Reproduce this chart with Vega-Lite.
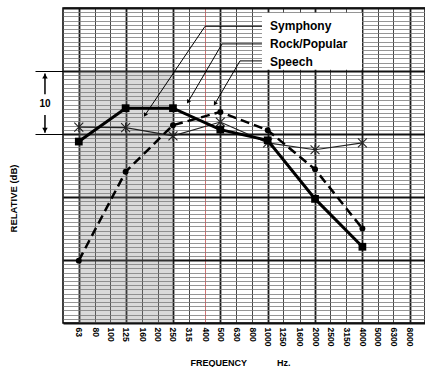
{
  "$schema": "https://vega.github.io/schema/vega-lite/v6.json",
  "width": 362,
  "height": 315,
  "autosize": "none",
  "padding": {"left": 63, "top": 8, "right": 0, "bottom": 44},
  "background": "white",
  "view": {"stroke": "black", "strokeWidth": 1.5},
  "config": {"font": "Liberation Sans"},
  "datasets": {
    "series": [
      {"series": "Symphony", "freq": 63, "db": 28.8},
      {"series": "Symphony", "freq": 125, "db": 34.1},
      {"series": "Symphony", "freq": 250, "db": 34.1},
      {"series": "Symphony", "freq": 500, "db": 30.7},
      {"series": "Symphony", "freq": 1000, "db": 29.0},
      {"series": "Symphony", "freq": 2000, "db": 19.7},
      {"series": "Symphony", "freq": 4000, "db": 12.1},
      {"series": "Rock/Popular", "freq": 63, "db": 9.9},
      {"series": "Rock/Popular", "freq": 125, "db": 24.0},
      {"series": "Rock/Popular", "freq": 250, "db": 31.4},
      {"series": "Rock/Popular", "freq": 500, "db": 33.5},
      {"series": "Rock/Popular", "freq": 1000, "db": 30.6},
      {"series": "Rock/Popular", "freq": 2000, "db": 24.4},
      {"series": "Rock/Popular", "freq": 4000, "db": 15.0},
      {"series": "Speech", "freq": 63, "db": 31.1},
      {"series": "Speech", "freq": 125, "db": 31.0},
      {"series": "Speech", "freq": 250, "db": 29.7},
      {"series": "Speech", "freq": 500, "db": 31.9},
      {"series": "Speech", "freq": 1000, "db": 28.6},
      {"series": "Speech", "freq": 2000, "db": 27.5},
      {"series": "Speech", "freq": 4000, "db": 28.6}
    ],
    "leaders": [
      {"leader": "Symphony", "step": 1, "freq": 920, "db": 47.1},
      {"leader": "Symphony", "step": 2, "freq": 400, "db": 47.1},
      {"leader": "Symphony", "step": 3, "freq": 166, "db": 33.0},
      {"leader": "Rock/Popular", "step": 1, "freq": 920, "db": 44.3},
      {"leader": "Rock/Popular", "step": 2, "freq": 513, "db": 44.3},
      {"leader": "Rock/Popular", "step": 3, "freq": 312, "db": 35.1},
      {"leader": "Speech", "step": 1, "freq": 920, "db": 41.6},
      {"leader": "Speech", "step": 2, "freq": 667, "db": 41.6},
      {"leader": "Speech", "step": 3, "freq": 462, "db": 34.8}
    ],
    "labels": [
      {"label": "Symphony", "freq": 1035, "db": 47.1},
      {"label": "Rock/Popular", "freq": 1035, "db": 44.3},
      {"label": "Speech", "freq": 1035, "db": 41.5}
    ]
  },
  "encoding": {
    "x": {
      "field": "freq",
      "type": "quantitative",
      "scale": {"type": "log", "domain": [50, 10000], "nice": false},
      "axis": {
        "values": [63, 80, 100, 125, 160, 200, 250, 315, 400, 500, 630, 800, 1000, 1250, 1600, 2000, 2500, 3150, 4000, 5000, 6300, 8000],
        "format": "d",
        "labelOverlap": false,
        "labelAngle": 90,
        "labelAlign": "left",
        "labelBaseline": "middle",
        "labelPadding": 4,
        "labelFont": "Liberation Sans",
        "labelFontSize": 8.5,
        "labelFontWeight": "bold",
        "labelColor": "black",
        "ticks": false,
        "domain": false,
        "grid": true,
        "gridColor": {"condition": {"test": "datum.value == 400", "value": "#c85050"}, "value": "#1a1a1a"},
        "gridWidth": {"condition": {"test": "datum.value == 63 || datum.value == 125 || datum.value == 250 || datum.value == 500 || datum.value == 1000 || datum.value == 2000 || datum.value == 4000 || datum.value == 8000", "value": 1.8}, "value": 0.8},
        "gridOpacity": 1,
        "title": "FREQUENCY\u00a0\u00a0\u00a0\u00a0\u00a0\u00a0\u00a0\u00a0\u00a0\u00a0\u00a0\u00a0Hz.",
        "titleFont": "Liberation Sans",
        "titleFontSize": 9,
        "titleFontWeight": "bold",
        "titleColor": "black",
        "titleX": 177,
        "titleY": 39,
        "titleAlign": "center",
        "titleBaseline": "middle"
      }
    },
    "y": {
      "field": "db",
      "type": "quantitative",
      "scale": {"domain": [0, 50], "nice": false, "zero": false},
      "axis": {
        "values": [0, 0.667, 1.333, 2, 2.667, 3.333, 4, 4.667, 5.333, 6, 6.667, 7.333, 8, 8.667, 9.333, 10, 10.667, 11.333, 12, 12.667, 13.333, 14, 14.667, 15.333, 16, 16.667, 17.333, 18, 18.667, 19.333, 20, 20.667, 21.333, 22, 22.667, 23.333, 24, 24.667, 25.333, 26, 26.667, 27.333, 28, 28.667, 29.333, 30, 30.667, 31.333, 32, 32.667, 33.333, 34, 34.667, 35.333, 36, 36.667, 37.333, 38, 38.667, 39.333, 40, 40.667, 41.333, 42, 42.667, 43.333, 44, 44.667, 45.333, 46, 46.667, 47.333, 48, 48.667, 49.333, 50],
        "labels": false,
        "domain": false,
        "ticks": true,
        "tickSize": 28,
        "tickWidth": 1,
        "tickColor": {"condition": {"test": "datum.value == 30 || datum.value == 40", "value": "black"}, "value": "transparent"},
        "grid": true,
        "gridColor": {"condition": {"test": "datum.value % 10 == 0", "value": "#111111"}, "value": "#7a7a7a"},
        "gridWidth": {"condition": {"test": "datum.value % 10 == 0", "value": 2}, "value": 0.8},
        "gridOpacity": 1,
        "title": "RELATIVE (dB)",
        "titleFont": "Liberation Sans",
        "titleFontSize": 9.5,
        "titleFontWeight": "bold",
        "titleColor": "black",
        "titleAngle": -90,
        "titleX": -50,
        "titleY": 190,
        "titleAlign": "center",
        "titleBaseline": "middle"
      }
    }
  },
  "layer": [
    {
      "data": {"values": [{"freq": 63, "freq2": 250, "db": 0, "db2": 40}]},
      "mark": {"type": "rect", "color": "#808080", "opacity": 0.3},
      "encoding": {"x2": {"field": "freq2"}, "y2": {"field": "db2"}}
    },
    {
      "data": {"values": [{"freq": 920, "freq2": 3980, "db": 40.2, "db2": 49.2}]},
      "mark": {"type": "rect", "color": "white", "opacity": 1},
      "encoding": {"x2": {"field": "freq2"}, "y2": {"field": "db2"}}
    },
    {
      "data": {"name": "leaders"},
      "mark": {"type": "line", "color": "black", "strokeWidth": 1},
      "encoding": {"detail": {"field": "leader"}, "order": {"field": "step"}}
    },
    {
      "data": {"name": "leaders"},
      "transform": [{"filter": "datum.step == 3"}],
      "mark": {"type": "point", "shape": "triangle-up", "filled": true, "color": "black", "size": 22, "angle": 211, "opacity": 1}
    },
    {
      "data": {"name": "labels"},
      "mark": {"type": "text", "align": "left", "baseline": "middle", "font": "Liberation Sans", "fontSize": 12, "fontWeight": "bold", "color": "black"},
      "encoding": {"text": {"field": "label"}}
    },
    {
      "data": {"name": "series"},
      "transform": [{"filter": "datum.series == 'Speech'"}],
      "mark": {"type": "line", "color": "#222222", "strokeWidth": 1.2}
    },
    {
      "data": {"name": "series"},
      "transform": [{"filter": "datum.series == 'Speech'"}],
      "mark": {"type": "point", "shape": "M-1,-1L1,1M-1,1L1,-1M0,-1.1L0,1.1", "filled": false, "color": "#222222", "strokeWidth": 1.1, "size": 80, "opacity": 1}
    },
    {
      "data": {"name": "series"},
      "transform": [{"filter": "datum.series == 'Rock/Popular'"}],
      "mark": {"type": "line", "color": "black", "strokeWidth": 2.5, "strokeDash": [9, 5]}
    },
    {
      "data": {"name": "series"},
      "transform": [{"filter": "datum.series == 'Rock/Popular'"}],
      "mark": {"type": "point", "shape": "circle", "filled": true, "color": "black", "size": 35, "opacity": 1}
    },
    {
      "data": {"name": "series"},
      "transform": [{"filter": "datum.series == 'Symphony'"}],
      "mark": {"type": "line", "color": "black", "strokeWidth": 3}
    },
    {
      "data": {"name": "series"},
      "transform": [{"filter": "datum.series == 'Symphony'"}],
      "mark": {"type": "point", "shape": "square", "filled": true, "color": "black", "size": 60, "opacity": 1}
    },
    {
      "data": {"values": [{"freq": 38.4, "db": 39.6, "db2": 36.3}, {"freq": 38.4, "db": 33.0, "db2": 30.2}]},
      "mark": {"type": "rule", "color": "black", "strokeWidth": 1.5, "clip": false},
      "encoding": {"y2": {"field": "db2"}}
    },
    {
      "data": {"values": [{"freq": 38.4, "db": 39.2}]},
      "mark": {"type": "point", "shape": "triangle-up", "filled": true, "color": "black", "size": 30, "opacity": 1, "clip": false}
    },
    {
      "data": {"values": [{"freq": 38.4, "db": 30.6}]},
      "mark": {"type": "point", "shape": "triangle-down", "filled": true, "color": "black", "size": 30, "opacity": 1, "clip": false}
    },
    {
      "data": {"values": [{"freq": 38.4, "db": 34.7, "t": "10"}]},
      "mark": {"type": "text", "font": "Liberation Sans", "fontSize": 10, "fontWeight": "bold", "color": "black", "align": "center", "baseline": "middle", "clip": false},
      "encoding": {"text": {"field": "t"}}
    }
  ]
}
